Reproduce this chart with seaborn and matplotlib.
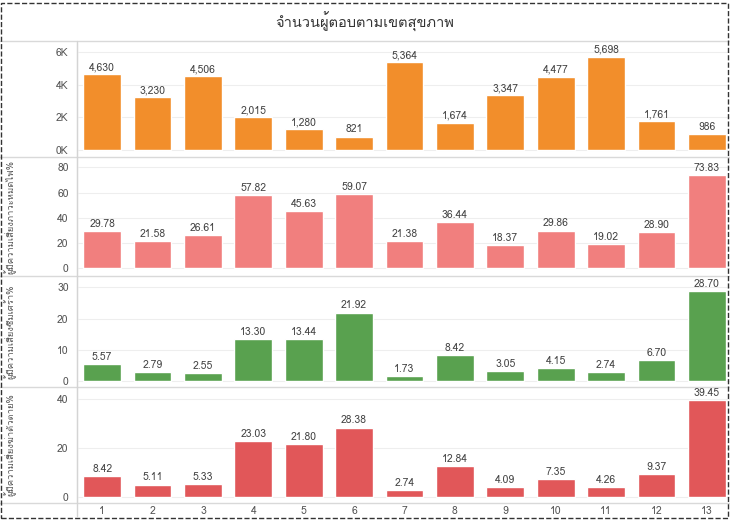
import matplotlib
matplotlib.use('Agg')
import matplotlib.pyplot as plt
from matplotlib import font_manager, ft2font
from matplotlib.patches import Rectangle
from matplotlib.lines import Line2D
from matplotlib.ticker import FuncFormatter
import seaborn as sns

# Данные
regions = [str(i) for i in range(1, 14)]
respondents = [4630, 3230, 4506, 2015, 1280, 821, 5364, 1674, 3347, 4477, 5698, 1761, 986]
burnout = [29.78, 21.58, 26.61, 57.82, 45.63, 59.07, 21.38, 36.44, 18.37, 29.86, 19.02, 28.90, 73.83]
depression = [5.57, 2.79, 2.55, 13.30, 13.44, 21.92, 1.73, 8.42, 3.05, 4.15, 2.74, 6.70, 28.70]
suicide = [8.42, 5.11, 5.33, 23.03, 21.80, 28.38, 2.74, 12.84, 4.09, 7.35, 4.26, 9.37, 39.45]

title = 'จำนวนผู้ตอบตามเขตสุขภาพ'
labels = ['', 'ผู้มีความเสี่ยงภาวะหมดไฟ%', 'ผู้มีความเสี่ยงซึมเศร้า%', 'ผู้มีความเสี่ยงฆ่าตัวตาย%']


def find_thai_font():
    for f in font_manager.fontManager.ttflist:
        try:
            if 0x0E01 in ft2font.FT2Font(f.fname).get_charmap():
                return f.name
        except Exception:
            pass
    return None


sns.set_style('white')
thai = find_thai_font()
plt.rcParams['font.family'] = ([thai] if thai else []) + ['DejaVu Sans']

W, H = 730, 520
fig = plt.figure(figsize=(W / 100, H / 100), dpi=100)

# Панели: (верх, низ) в пикселях, данные, цвет, пределы, тики, формат
panels = [
    (44, 156, respondents, '#F28E2B', (-370, 6490), [0, 2000, 4000, 6000], '{:,.0f}'),
    (158, 275, burnout, '#F17F7E', (-5.5, 87.5), [0, 20, 40, 60, 80], '{:.2f}'),
    (277, 386, depression, '#59A14F', (-1.6, 33.3), [0, 10, 20, 30], '{:.2f}'),
    (388, 502, suicide, '#E15759', (-2, 44.5), [0, 20, 40], '{:.2f}'),
]

x0, x1 = 77, 732
grey = '#555555'
for i, (top, bottom, vals, color, ylim, ticks, fmt) in enumerate(panels):
    ax = fig.add_axes([x0 / W, 1 - bottom / H, (x1 - x0) / W, (bottom - top) / H])
    ax.set_facecolor('none')
    sns.barplot(x=regions, y=vals, color=color, saturation=1, width=0.75, ax=ax)
    ax.set_ylim(*ylim)
    ax.set_yticks(ticks)
    if i == 0:
        ax.yaxis.set_major_formatter(FuncFormatter(lambda v, p: f'{v / 1000:.0f}K'))
    ax.grid(axis='y', color='#eeeeee', linewidth=0.8)
    ax.set_axisbelow(True)
    ax.tick_params(axis='y', length=0, labelsize=7.5, labelcolor=grey, pad=6)
    for side in ['top', 'right', 'bottom']:
        ax.spines[side].set_visible(False)
    ax.spines['left'].set_color('#d4d4d4')
    ax.set_ylabel(labels[i], fontsize=6.8, color=grey)
    ax.yaxis.set_label_coords(-0.092, 0.5)
    ax.bar_label(ax.containers[0], labels=[fmt.format(v) for v in vals],
                 fontsize=7.5, color='#444444', padding=1.5)
    ax.set_xlabel('')
    if i < 3:
        ax.set_xticks([])
    else:
        ax.tick_params(axis='x', length=0, labelsize=7.5, labelcolor=grey, pad=3)
    ax.set_xlim(-0.5, 12.5)

# Разделители и рамка (под текстом)
for y in [41, 157, 276, 387, 503]:
    fig.add_artist(Line2D([0, 1], [1 - y / H, 1 - y / H], color='#d9d9d9',
                          linewidth=1, zorder=-1))
fig.add_artist(Line2D([x0 / W, x0 / W], [1 - 41 / H, 1 - 516 / H], color='#d4d4d4',
                      linewidth=1, zorder=-1))
fig.add_artist(Rectangle((1 / W, 2 / H), (W - 3) / W, 1 - 5 / H, fill=False,
                         linestyle='--', edgecolor='#333333', linewidth=1))
fig.text(0.5, 1 - 22 / H, title, ha='center', va='center', fontsize=10.5, color='#333333')

fig.savefig('out.png', dpi=100)
